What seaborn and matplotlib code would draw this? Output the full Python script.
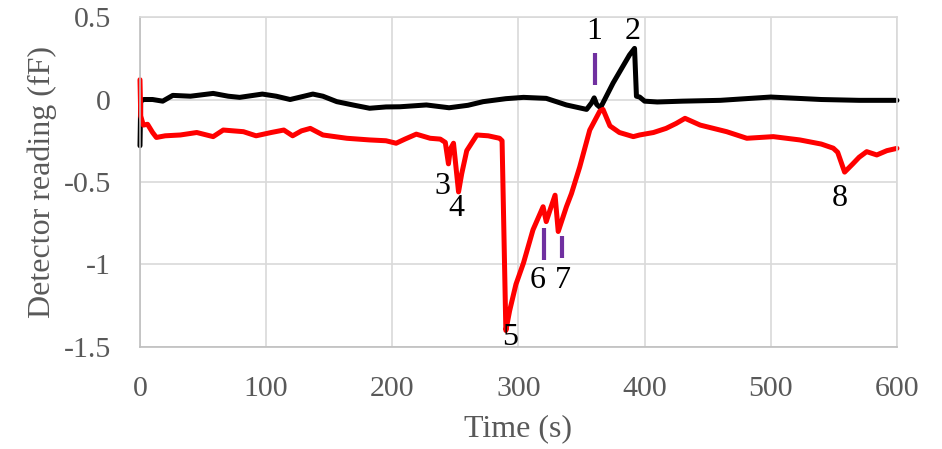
import numpy as np
import pandas as pd
import matplotlib
matplotlib.use('Agg')
import matplotlib.pyplot as plt
import seaborn as sns

# Reference (black) trace
black_t = [0, 0.6, 3, 10, 18, 26, 40, 58, 70, 79, 97, 108, 119, 130, 137, 145,
           156, 170, 182, 195, 206, 227, 245, 260, 272, 290, 304, 322, 338, 354,
           358, 360, 362, 365, 375, 388, 392, 393.5, 396, 400, 410, 430, 460,
           500, 540, 570, 600]
black_v = [-0.28, -0.01, 0.0, 0.0, -0.01, 0.025, 0.02, 0.037, 0.02, 0.013, 0.033,
           0.02, 0.0, 0.02, 0.033, 0.02, -0.013, -0.035, -0.053, -0.045, -0.044,
           -0.033, -0.05, -0.035, -0.013, 0.005, 0.013, 0.007, -0.033, -0.06,
           -0.02, 0.01, -0.03, -0.05, 0.1, 0.27, 0.31, 0.02, 0.015, -0.01,
           -0.015, -0.01, -0.005, 0.015, 0.0, -0.005, -0.005]

# Sample (red) trace
red_t = [0, 0.6, 2.6, 6, 10, 13, 20, 32, 45, 58, 66, 82, 92, 104, 114, 121, 128,
         135, 145, 164, 182, 195, 203, 210, 219, 230, 238, 242, 244.5, 246, 248.5,
         252.5, 255, 259, 267, 276, 285, 287, 290, 293, 298, 304, 311.5, 319.5,
         322, 325, 329, 331.5, 338, 342, 348.5, 356.5, 364.5, 367, 372.5, 380,
         391, 396, 407, 417, 425, 432, 444, 465, 481, 502, 523, 540, 549.5, 553,
         558.5, 565, 570, 576, 584, 592, 600]
red_v = [0.12, -0.1, -0.155, -0.15, -0.2, -0.23, -0.22, -0.215, -0.2, -0.225,
         -0.185, -0.195, -0.22, -0.2, -0.185, -0.22, -0.19, -0.175, -0.215, -0.235,
         -0.245, -0.25, -0.265, -0.24, -0.21, -0.235, -0.24, -0.26, -0.39, -0.3,
         -0.265, -0.56, -0.45, -0.31, -0.215, -0.22, -0.235, -0.25, -1.40, -1.28,
         -1.12, -0.99, -0.79, -0.65, -0.74, -0.67, -0.58, -0.80, -0.65, -0.57,
         -0.41, -0.185, -0.07, -0.06, -0.16, -0.2, -0.225, -0.215, -0.2, -0.175,
         -0.145, -0.114, -0.155, -0.195, -0.235, -0.225, -0.245, -0.27, -0.295,
         -0.32, -0.44, -0.39, -0.35, -0.316, -0.336, -0.31, -0.296]

# Event markers (purple ticks): time, bottom, top
mark_t = [360.5, 320, 334.6]
mark_lo = [0.088, -0.97, -0.96]
mark_hi = [0.28, -0.78, -0.83]

# Event labels
label_txt = ['1', '2', '3', '4', '5', '6', '7', '8']
label_t = [359.7, 390.6, 240, 251, 293, 315.4, 335.2, 554.7]
label_v = [0.41, 0.41, -0.528, -0.658, -1.445, -1.094, -1.094, -0.597]

sns.set_style('white')
plt.rcParams['font.family'] = ['Liberation Serif', 'DejaVu Serif']
plt.rcParams['axes.unicode_minus'] = False

fig = plt.figure(figsize=(9.42, 4.49), dpi=100)
ax = fig.add_axes([0.1486, 0.2272, 0.8036, 0.7349])

black_df = pd.DataFrame({'t': black_t, 'v': black_v})
red_df = pd.DataFrame({'t': red_t, 'v': red_v})
sns.lineplot(data=black_df, x='t', y='v', ax=ax, color='black', lw=3.6,
             estimator=None, sort=False)
sns.lineplot(data=red_df, x='t', y='v', ax=ax, color='#ff0000', lw=3.6,
             estimator=None, sort=False)
# the spikes at t=0 sit on the left axis, don't cut them in half
for ln in ax.get_lines():
    ln.set_clip_on(False)

ax.vlines(mark_t, mark_lo, mark_hi, colors='#7030a0', lw=3)

for txt, t, v in zip(label_txt, label_t, label_v):
    ax.text(t, v, txt, fontsize=23, ha='center', va='center', color='black')

ax.set_xlim(0, 600)
ax.set_ylim(-1.5, 0.5)
ax.set_xticks(np.arange(0, 601, 100))
ax.set_yticks([-1.5, -1, -0.5, 0, 0.5])
ax.set_yticklabels(['-1.5', '-1', '-0.5', '0', '0.5'])
ax.grid(True, color='#d9d9d9', lw=1.2)
ax.set_axisbelow(True)
for s in ax.spines.values():
    s.set_color('#d9d9d9')
    s.set_linewidth(1.2)
ax.spines['left'].set_color('#bfbfbf')
ax.spines['bottom'].set_color('#bfbfbf')
ax.tick_params(length=0, labelsize=21.5, colors='#595959', pad=21)

ax.set_xlabel('Time (s)', fontsize=23, color='#595959')
ax.set_ylabel('Detector reading (fF)', fontsize=23, color='#595959')
ax.xaxis.set_label_coords(0.5, -0.205)
ax.yaxis.set_label_coords(-0.11, 0.5)

fig.savefig('out.png', dpi=100)
